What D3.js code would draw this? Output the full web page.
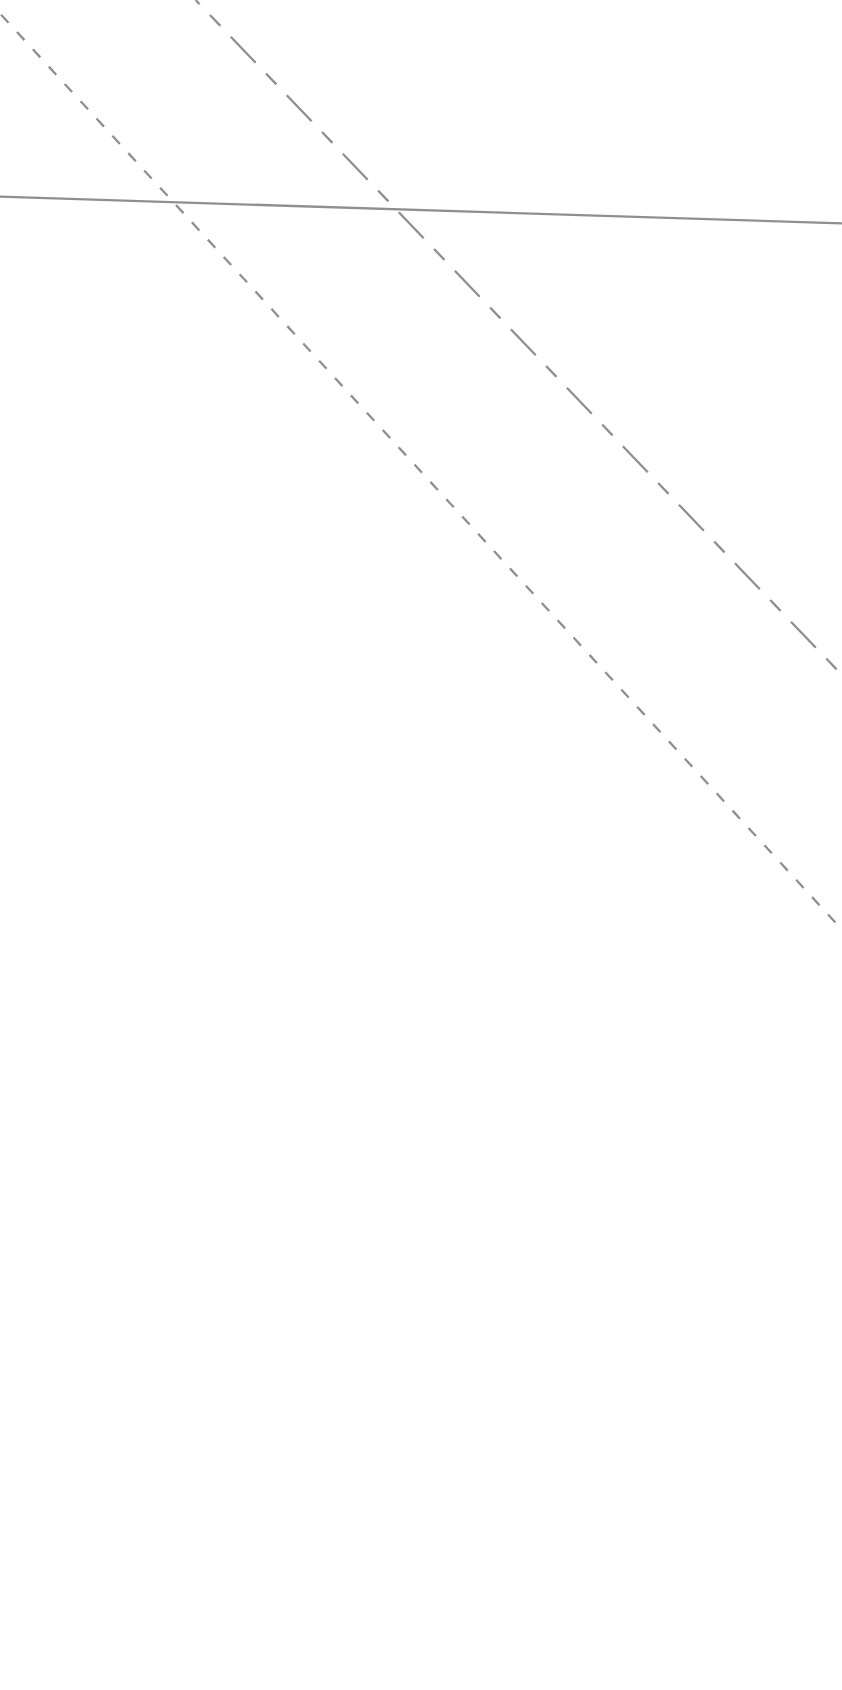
<!DOCTYPE html>
<html>
<head>
<meta charset="utf-8">
<script src="https://cdn.jsdelivr.net/npm/d3@7"></script>
<style>
  html, body { margin: 0; padding: 0; background: #fff; }
  svg { display: block; }
</style>
</head>
<body>
<svg id="chart" width="842" height="1690"></svg>
<script>
// Data (in chart units: x 0..100, y 0..100)
const seriesNames = ["solid", "longDash", "shortDash"];
const solidLine = [ {x: 0, y: 88.36}, {x: 100, y: 86.78} ];
const longDashLine = [ {x: 23.23, y: 100}, {x: 100, y: 60.06} ];
const shortDashLine = [ {x: 0, y: 99.2}, {x: 100, y: 44.99} ];

const W = 842, H = 1690;
const svg = d3.select("#chart");
const x = d3.scaleLinear().domain([0, 100]).range([0, W]);
const y = d3.scaleLinear().domain([0, 100]).range([H, 0]);

const line = d3.line().x(d => x(d.x)).y(d => y(d.y));

const styles = {
  solid:     { dash: null,            offset: 0 },
  longDash:  { dash: "36,15,15,15",   offset: 30.2 },
  shortDash: { dash: "11,12.5",       offset: 21.9 }
};
const lines = { solid: solidLine, longDash: longDashLine, shortDash: shortDashLine };

seriesNames.forEach(name => {
  const s = styles[name];
  const p = svg.append("path")
    .datum(lines[name])
    .attr("d", line)
    .attr("fill", "none")
    .attr("stroke", "#8f8f8f")
    .attr("stroke-width", 2.3);
  if (s.dash) p.attr("stroke-dasharray", s.dash).attr("stroke-dashoffset", s.offset);
});
</script>
</body>
</html>
